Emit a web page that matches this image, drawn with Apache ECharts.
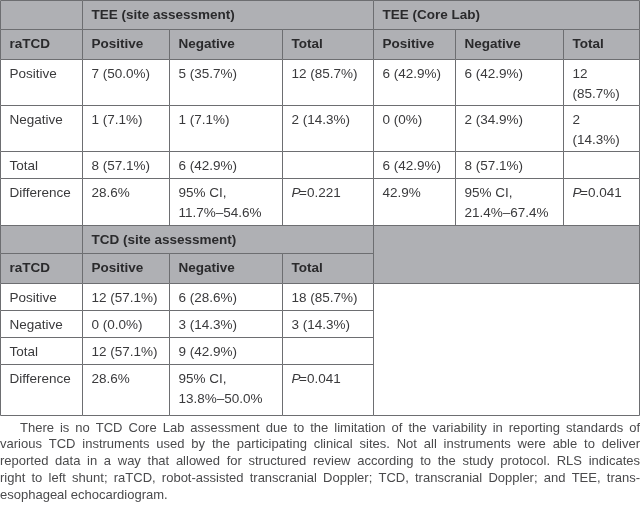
<!DOCTYPE html>
<html><head><meta charset="utf-8">
<script src="https://cdn.jsdelivr.net/npm/echarts@6/dist/echarts.min.js"></script>
<style>html,body{margin:0;padding:0;background:#fff}#c{width:640px;height:509px}</style>
</head><body><div id="c"></div>
<script>
// ---------- data ----------
const groupHeaders = ['TEE (site assessment)', 'TEE (Core Lab)', 'TCD (site assessment)'];
const colHeaders = ['raTCD', 'Positive', 'Negative', 'Total'];
const rowLabels = ['Positive', 'Negative', 'Total', 'Difference'];
const teeSite = [
  ['7 (50.0%)', '5 (35.7%)', '12 (85.7%)'],
  ['1 (7.1%)', '1 (7.1%)', '2 (14.3%)'],
  ['8 (57.1%)', '6 (42.9%)', ''],
  ['28.6%', '95% CI, 11.7%–54.6%', '{i|P}=0.221']
];
const teeCore = [
  ['6 (42.9%)', '6 (42.9%)', '12 (85.7%)'],
  ['0 (0%)', '2 (34.9%)', '2 (14.3%)'],
  ['6 (42.9%)', '8 (57.1%)', ''],
  ['42.9%', '95% CI, 21.4%–67.4%', '{i|P}=0.041']
];
const tcdSite = [
  ['12 (57.1%)', '6 (28.6%)', '18 (85.7%)'],
  ['0 (0.0%)', '3 (14.3%)', '3 (14.3%)'],
  ['12 (57.1%)', '9 (42.9%)', ''],
  ['28.6%', '95% CI, 13.8%–50.0%', '{i|P}=0.041']
];
const footnoteLines = [
  'There is no TCD Core Lab assessment due to the limitation of the variability in reporting standards of',
  'various TCD instruments used by the participating clinical sites. Not all instruments were able to deliver',
  'reported data in a way that allowed for structured review according to the study protocol. RLS indicates',
  'right to left shunt; raTCD, robot-assisted transcranial Doppler; TCD, transcranial Doppler; and TEE, trans-',
  'esophageal echocardiogram.'
];

// ---------- layout ----------
const colEdges = [0, 82, 169, 282, 373, 455, 563, 639];
const rowEdges = [0, 29, 59, 105, 151, 178, 225, 253, 283, 310, 337, 364, 415];
const GRAY = '#afb0b4', WHITE = '#ffffff', LINE = '#6d6e71';
const FONT = '"Liberation Sans", Arial, Helvetica, sans-serif';
const FS = 13.5, LH = 19.5, PAD = 9.5;
const capFS = 13, capTop = 428, capLH = 16.75, capIndent = 20;

// ---------- build cells ----------
const cells = [];
function add(c0, c1, r0, r1, text, bold, fill) { cells.push({c0, c1, r0, r1, text, bold, fill}); }
add(0, 1, 0, 1, '', false, GRAY);
add(1, 4, 0, 1, groupHeaders[0], true, GRAY);
add(4, 7, 0, 1, groupHeaders[1], true, GRAY);
colHeaders.forEach((h, j) => add(j, j + 1, 1, 2, h, true, GRAY));
colHeaders.slice(1).forEach((h, j) => add(4 + j, 5 + j, 1, 2, h, true, GRAY));
rowLabels.forEach((lab, i) => {
  add(0, 1, 2 + i, 3 + i, lab, false, WHITE);
  teeSite[i].forEach((v, j) => add(1 + j, 2 + j, 2 + i, 3 + i, v, false, WHITE));
  teeCore[i].forEach((v, j) => add(4 + j, 5 + j, 2 + i, 3 + i, v, false, WHITE));
});
add(0, 1, 6, 7, '', false, GRAY);
add(1, 4, 6, 7, groupHeaders[2], true, GRAY);
add(4, 7, 6, 8, '', false, GRAY);
colHeaders.forEach((h, j) => add(j, j + 1, 7, 8, h, true, GRAY));
rowLabels.forEach((lab, i) => {
  add(0, 1, 8 + i, 9 + i, lab, false, WHITE);
  tcdSite[i].forEach((v, j) => add(1 + j, 2 + j, 8 + i, 9 + i, v, false, WHITE));
});
add(4, 7, 8, 12, '', false, WHITE);

const cellData = cells.map(c => [colEdges[c.c0], rowEdges[c.r0], colEdges[c.c1], rowEdges[c.r1]]);

// ---------- footnote (justified) ----------
const cv = document.createElement('canvas').getContext('2d');
cv.font = capFS + 'px ' + FONT;
const graphics = [];
footnoteLines.forEach((line, li) => {
  const words = line.split(' ');
  const left = li === 0 ? capIndent : 0;
  const avail = 640 - left;
  const widths = words.map(w => cv.measureText(w).width);
  const total = widths.reduce((a, b) => a + b, 0);
  const last = li === footnoteLines.length - 1;
  const gap = last ? cv.measureText(' ').width : (avail - total) / (words.length - 1);
  let x = left;
  words.forEach((w, k) => {
    graphics.push({
      type: 'text', x: x, y: capTop + li * capLH,
      style: { text: w, fill: '#4a4a4c', font: capFS + 'px ' + FONT, verticalAlign: 'middle', align: 'left' },
      silent: true
    });
    x += widths[k] + gap;
  });
});

const chart = echarts.init(document.getElementById('c'), null, {renderer: 'canvas'});
chart.setOption({
  animation: false,
  backgroundColor: '#ffffff',
  grid: {left: 0, right: 0, top: 0, bottom: 0},
  xAxis: {type: 'value', min: 0, max: 640, show: false},
  yAxis: {type: 'value', min: 0, max: 509, inverse: true, show: false},
  graphic: graphics,
  series: [{
    type: 'custom',
    coordinateSystem: 'cartesian2d',
    encode: {x: [0, 2], y: [1, 3]},
    data: cellData,
    silent: true,
    renderItem: function (params, api) {
      const c = cells[params.dataIndex];
      const p0 = api.coord([api.value(0), api.value(1)]);
      const p1 = api.coord([api.value(2), api.value(3)]);
      const x0 = Math.round(p0[0]), y0 = Math.round(p0[1]);
      const x1 = Math.round(p1[0]), y1 = Math.round(p1[1]);
      const children = [{
        type: 'rect',
        shape: {x: x0 + 0.5, y: y0 + 0.5, width: x1 - x0, height: y1 - y0},
        style: {fill: c.fill, stroke: LINE, lineWidth: 1}
      }];
      if (c.text) {
        const st = {
          text: c.text, x: x0 + PAD, y: y0 + 15.5 - LH / 2,
          fill: c.bold ? '#2a2a2c' : '#3a3a3c',
          fontSize: FS, fontFamily: FONT, fontWeight: c.bold ? 'bold' : 'normal',
          lineHeight: LH, verticalAlign: 'top', align: 'left',
          rich: {i: {fontStyle: 'italic', fontSize: FS, fontFamily: FONT, fill: '#3a3a3c', lineHeight: LH}}
        };
        if (c.c0 > 0 && c.c1 - c.c0 === 1) { st.width = x1 - x0 - PAD - 2; st.overflow = 'break'; }
        children.push({type: 'text', style: st});
      }
      return {type: 'group', children: children};
    }
  }]
});
</script>
</body></html>
